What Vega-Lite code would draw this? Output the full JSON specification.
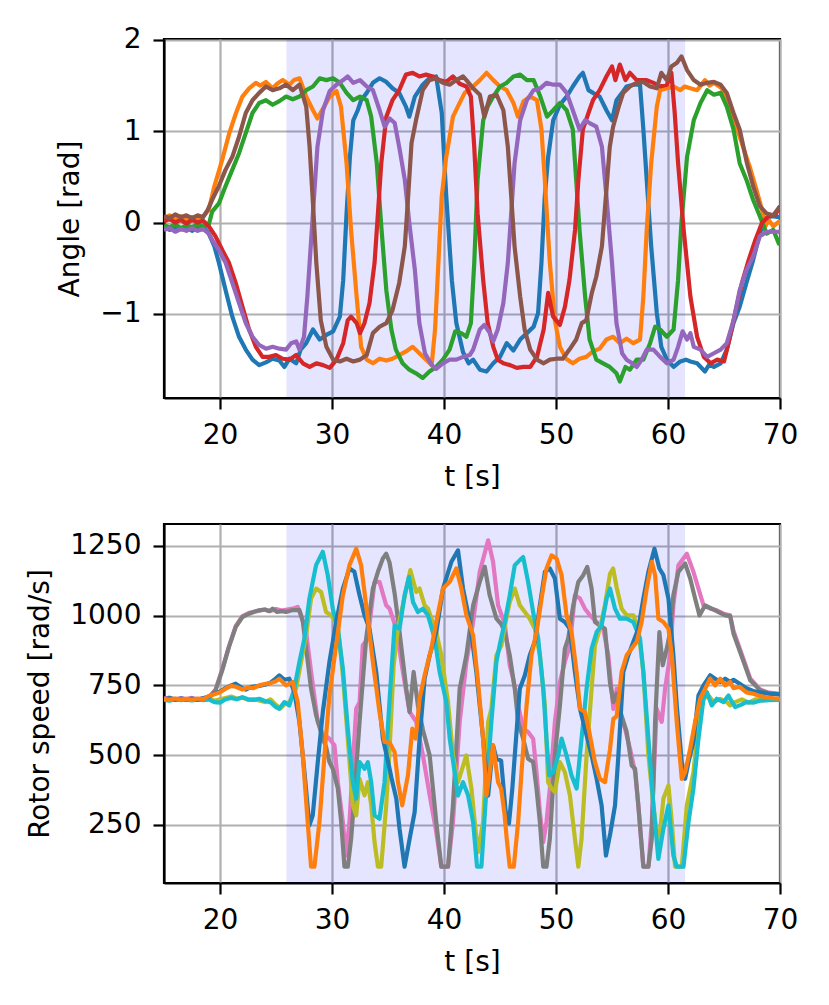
{
"$schema": "https://vega.github.io/schema/vega-lite/v6.json",
"background": "white",
"padding": {"left": 25, "top": 24, "right": 31, "bottom": 20},
"config": {
  "font": "DejaVu Sans",
  "view": {"stroke": "black", "strokeWidth": 2.2},
  "axis": {"labelFont": "DejaVu Sans", "labelFontSize": 28, "labelColor": "black", "titleFont": "DejaVu Sans", "titleFontSize": 28, "titleFontWeight": "normal", "titleColor": "black", "tickSize": 11, "tickWidth": 2.2, "tickColor": "black", "domainColor": "black", "domainWidth": 2.2, "gridColor": "#b0b0b0", "gridWidth": 2.2, "labelPadding": 12, "labelFlush": false, "labelOverlap": false},
  "axisX": {"titlePadding": 14},
  "axisY": {"titlePadding": 15}
},
"resolve": {"scale": {"color": "independent"}},
"datasets": {
"span": [{"start": 25.93, "end": 61.53}],
"angle": [
{"s":"a1","t":15,"v":-0.05},{"s":"a1","t":15.5,"v":-0.08},{"s":"a1","t":16,"v":-0.04},{"s":"a1","t":16.5,"v":-0.07},{"s":"a1","t":17,"v":-0.05},{"s":"a1","t":17.5,"v":-0.09},{"s":"a1","t":18,"v":-0.06},{"s":"a1","t":18.5,"v":-0.04},{"s":"a1","t":19,"v":-0.12},{"s":"a1","t":19.5,"v":-0.26},{"s":"a1","t":19.9,"v":-0.44},{"s":"a1","t":20.5,"v":-0.74},{"s":"a1","t":21.1,"v":-1.03},{"s":"a1","t":21.7,"v":-1.25},{"s":"a1","t":22.3,"v":-1.39},{"s":"a1","t":22.9,"v":-1.5},{"s":"a1","t":23.5,"v":-1.56},{"s":"a1","t":24.1,"v":-1.53},{"s":"a1","t":24.7,"v":-1.49},{"s":"a1","t":25.3,"v":-1.51},{"s":"a1","t":25.75,"v":-1.58},{"s":"a1","t":26.2,"v":-1.49},{"s":"a1","t":26.8,"v":-1.54},{"s":"a1","t":27.2,"v":-1.39},{"s":"a1","t":27.7,"v":-1.32},{"s":"a1","t":28.3,"v":-1.17},{"s":"a1","t":28.9,"v":-1.28},{"s":"a1","t":29.5,"v":-1.23},{"s":"a1","t":30.1,"v":-1.19},{"s":"a1","t":30.7,"v":-1.03},{"s":"a1","t":31,"v":-0.63},{"s":"a1","t":31.3,"v":0.1},{"s":"a1","t":31.6,"v":0.72},{"s":"a1","t":31.9,"v":1.12},{"s":"a1","t":32.3,"v":1.23},{"s":"a1","t":32.6,"v":1.34},{"s":"a1","t":33.1,"v":1.42},{"s":"a1","t":33.65,"v":1.53},{"s":"a1","t":34.25,"v":1.58},{"s":"a1","t":34.85,"v":1.54},{"s":"a1","t":35.4,"v":1.47},{"s":"a1","t":36,"v":1.42},{"s":"a1","t":36.6,"v":1.27},{"s":"a1","t":36.9,"v":1.16},{"s":"a1","t":37.4,"v":1.38},{"s":"a1","t":38.1,"v":1.51},{"s":"a1","t":38.7,"v":1.58},{"s":"a1","t":39.3,"v":1.6},{"s":"a1","t":39.8,"v":1.2},{"s":"a1","t":40.2,"v":0.29},{"s":"a1","t":40.7,"v":-0.63},{"s":"a1","t":41.1,"v":-1.1},{"s":"a1","t":41.7,"v":-1.42},{"s":"a1","t":42.2,"v":-1.54},{"s":"a1","t":42.6,"v":-1.5},{"s":"a1","t":43.2,"v":-1.61},{"s":"a1","t":43.8,"v":-1.63},{"s":"a1","t":44.4,"v":-1.54},{"s":"a1","t":45,"v":-1.47},{"s":"a1","t":45.6,"v":-1.32},{"s":"a1","t":46.2,"v":-1.4},{"s":"a1","t":46.8,"v":-1.28},{"s":"a1","t":47.4,"v":-1.21},{"s":"a1","t":48,"v":-1.14},{"s":"a1","t":48.4,"v":-0.99},{"s":"a1","t":48.7,"v":-0.44},{"s":"a1","t":49,"v":0.29},{"s":"a1","t":49.3,"v":0.72},{"s":"a1","t":49.75,"v":1.12},{"s":"a1","t":50.35,"v":1.29},{"s":"a1","t":50.95,"v":1.38},{"s":"a1","t":51.5,"v":1.49},{"s":"a1","t":52.1,"v":1.6},{"s":"a1","t":52.4,"v":1.64},{"s":"a1","t":52.9,"v":1.45},{"s":"a1","t":53.3,"v":1.42},{"s":"a1","t":53.9,"v":1.38},{"s":"a1","t":54.5,"v":1.23},{"s":"a1","t":55,"v":1.12},{"s":"a1","t":55.4,"v":1.34},{"s":"a1","t":55.9,"v":1.42},{"s":"a1","t":56.3,"v":1.49},{"s":"a1","t":56.9,"v":1.51},{"s":"a1","t":57.5,"v":1.51},{"s":"a1","t":57.8,"v":1.02},{"s":"a1","t":58.1,"v":0.47},{"s":"a1","t":58.5,"v":-0.26},{"s":"a1","t":59,"v":-0.99},{"s":"a1","t":59.4,"v":-1.36},{"s":"a1","t":59.9,"v":-1.5},{"s":"a1","t":60.5,"v":-1.58},{"s":"a1","t":61.1,"v":-1.52},{"s":"a1","t":61.6,"v":-1.5},{"s":"a1","t":62,"v":-1.52},{"s":"a1","t":62.6,"v":-1.54},{"s":"a1","t":63.3,"v":-1.63},{"s":"a1","t":63.7,"v":-1.55},{"s":"a1","t":64.1,"v":-1.58},{"s":"a1","t":64.7,"v":-1.54},{"s":"a1","t":65.25,"v":-1.39},{"s":"a1","t":65.85,"v":-1.1},{"s":"a1","t":66.4,"v":-0.92},{"s":"a1","t":67,"v":-0.66},{"s":"a1","t":67.6,"v":-0.41},{"s":"a1","t":68.2,"v":-0.12},{"s":"a1","t":68.7,"v":0.05},{"s":"a1","t":69.3,"v":0.07},{"s":"a1","t":69.9,"v":0.06},{"s":"a1","t":70,"v":0.05},
{"s":"a2","t":15,"v":0.05},{"s":"a2","t":15.5,"v":0.08},{"s":"a2","t":16,"v":0.03},{"s":"a2","t":16.5,"v":0.07},{"s":"a2","t":17,"v":0.02},{"s":"a2","t":17.5,"v":0.06},{"s":"a2","t":18,"v":0.03},{"s":"a2","t":18.5,"v":0.07},{"s":"a2","t":19,"v":0.14},{"s":"a2","t":19.5,"v":0.4},{"s":"a2","t":19.94,"v":0.58},{"s":"a2","t":20.2,"v":0.69},{"s":"a2","t":20.83,"v":0.98},{"s":"a2","t":21.43,"v":1.2},{"s":"a2","t":22,"v":1.38},{"s":"a2","t":22.6,"v":1.47},{"s":"a2","t":23.2,"v":1.53},{"s":"a2","t":23.6,"v":1.5},{"s":"a2","t":24.1,"v":1.54},{"s":"a2","t":24.7,"v":1.47},{"s":"a2","t":25.1,"v":1.52},{"s":"a2","t":25.6,"v":1.56},{"s":"a2","t":26.2,"v":1.51},{"s":"a2","t":26.6,"v":1.56},{"s":"a2","t":27.1,"v":1.58},{"s":"a2","t":27.7,"v":1.38},{"s":"a2","t":28.3,"v":1.23},{"s":"a2","t":28.7,"v":1.14},{"s":"a2","t":29.2,"v":1.25},{"s":"a2","t":29.8,"v":1.38},{"s":"a2","t":30.4,"v":1.44},{"s":"a2","t":30.8,"v":1.27},{"s":"a2","t":31.3,"v":0.65},{"s":"a2","t":31.7,"v":-0.08},{"s":"a2","t":32.2,"v":-0.81},{"s":"a2","t":32.6,"v":-1.36},{"s":"a2","t":33.1,"v":-1.5},{"s":"a2","t":33.65,"v":-1.54},{"s":"a2","t":34.25,"v":-1.49},{"s":"a2","t":34.85,"v":-1.51},{"s":"a2","t":35.4,"v":-1.49},{"s":"a2","t":36,"v":-1.45},{"s":"a2","t":36.6,"v":-1.41},{"s":"a2","t":37.2,"v":-1.36},{"s":"a2","t":37.8,"v":-1.43},{"s":"a2","t":38.4,"v":-1.5},{"s":"a2","t":38.9,"v":-1.56},{"s":"a2","t":39.2,"v":-1.17},{"s":"a2","t":39.5,"v":-0.44},{"s":"a2","t":39.8,"v":0.29},{"s":"a2","t":40.2,"v":0.72},{"s":"a2","t":40.8,"v":1.16},{"s":"a2","t":41.4,"v":1.31},{"s":"a2","t":41.85,"v":1.42},{"s":"a2","t":42.6,"v":1.49},{"s":"a2","t":43.2,"v":1.56},{"s":"a2","t":43.8,"v":1.64},{"s":"a2","t":44.4,"v":1.56},{"s":"a2","t":45,"v":1.49},{"s":"a2","t":45.6,"v":1.45},{"s":"a2","t":46.2,"v":1.31},{"s":"a2","t":46.6,"v":1.16},{"s":"a2","t":47.1,"v":1.33},{"s":"a2","t":47.7,"v":1.38},{"s":"a2","t":48.3,"v":1.34},{"s":"a2","t":48.7,"v":1.02},{"s":"a2","t":49,"v":0.47},{"s":"a2","t":49.45,"v":-0.44},{"s":"a2","t":49.9,"v":-1.07},{"s":"a2","t":50.35,"v":-1.36},{"s":"a2","t":50.9,"v":-1.49},{"s":"a2","t":51.5,"v":-1.54},{"s":"a2","t":52.1,"v":-1.49},{"s":"a2","t":52.7,"v":-1.47},{"s":"a2","t":53.3,"v":-1.41},{"s":"a2","t":53.9,"v":-1.38},{"s":"a2","t":54.5,"v":-1.28},{"s":"a2","t":55.1,"v":-1.25},{"s":"a2","t":55.7,"v":-1.32},{"s":"a2","t":56.3,"v":-1.27},{"s":"a2","t":56.9,"v":-1.32},{"s":"a2","t":57.5,"v":-1.28},{"s":"a2","t":57.8,"v":-0.81},{"s":"a2","t":58.1,"v":-0.08},{"s":"a2","t":58.5,"v":0.65},{"s":"a2","t":59,"v":1.27},{"s":"a2","t":59.3,"v":1.45},{"s":"a2","t":59.9,"v":1.47},{"s":"a2","t":60.5,"v":1.49},{"s":"a2","t":61.1,"v":1.45},{"s":"a2","t":61.5,"v":1.49},{"s":"a2","t":62,"v":1.47},{"s":"a2","t":62.6,"v":1.45},{"s":"a2","t":63.3,"v":1.56},{"s":"a2","t":63.7,"v":1.5},{"s":"a2","t":64.1,"v":1.53},{"s":"a2","t":64.8,"v":1.47},{"s":"a2","t":65.55,"v":1.27},{"s":"a2","t":66.1,"v":1.05},{"s":"a2","t":66.7,"v":0.83},{"s":"a2","t":67.3,"v":0.61},{"s":"a2","t":67.9,"v":0.36},{"s":"a2","t":68.4,"v":0.14},{"s":"a2","t":68.7,"v":-0.04},{"s":"a2","t":69,"v":0.03},{"s":"a2","t":69.4,"v":-0.04},{"s":"a2","t":69.9,"v":0.01},{"s":"a2","t":70,"v":0},
{"s":"a3","t":15,"v":-0.03},{"s":"a3","t":15.5,"v":-0.05},{"s":"a3","t":16,"v":-0.02},{"s":"a3","t":16.5,"v":-0.06},{"s":"a3","t":17,"v":-0.03},{"s":"a3","t":17.5,"v":-0.05},{"s":"a3","t":18,"v":-0.02},{"s":"a3","t":18.5,"v":-0.05},{"s":"a3","t":19,"v":-0.02},{"s":"a3","t":19.3,"v":0.12},{"s":"a3","t":19.9,"v":0.21},{"s":"a3","t":20.5,"v":0.4},{"s":"a3","t":21.1,"v":0.58},{"s":"a3","t":21.7,"v":0.76},{"s":"a3","t":22.3,"v":0.98},{"s":"a3","t":22.9,"v":1.2},{"s":"a3","t":23.5,"v":1.31},{"s":"a3","t":24.1,"v":1.34},{"s":"a3","t":24.7,"v":1.29},{"s":"a3","t":25.3,"v":1.33},{"s":"a3","t":25.9,"v":1.38},{"s":"a3","t":26.5,"v":1.35},{"s":"a3","t":27.1,"v":1.38},{"s":"a3","t":27.7,"v":1.45},{"s":"a3","t":28.3,"v":1.49},{"s":"a3","t":28.9,"v":1.58},{"s":"a3","t":29.5,"v":1.56},{"s":"a3","t":30.1,"v":1.58},{"s":"a3","t":30.7,"v":1.53},{"s":"a3","t":31.3,"v":1.42},{"s":"a3","t":31.9,"v":1.34},{"s":"a3","t":32.5,"v":1.38},{"s":"a3","t":33.1,"v":1.34},{"s":"a3","t":33.5,"v":1.16},{"s":"a3","t":34,"v":0.65},{"s":"a3","t":34.4,"v":-0.04},{"s":"a3","t":34.85,"v":-0.74},{"s":"a3","t":35.3,"v":-1.17},{"s":"a3","t":35.7,"v":-1.39},{"s":"a3","t":36.3,"v":-1.54},{"s":"a3","t":36.9,"v":-1.61},{"s":"a3","t":37.5,"v":-1.65},{"s":"a3","t":38.1,"v":-1.7},{"s":"a3","t":38.7,"v":-1.63},{"s":"a3","t":39.3,"v":-1.58},{"s":"a3","t":39.9,"v":-1.5},{"s":"a3","t":40.5,"v":-1.39},{"s":"a3","t":41,"v":-1.19},{"s":"a3","t":41.55,"v":-1.21},{"s":"a3","t":42,"v":-1.25},{"s":"a3","t":42.4,"v":-1.1},{"s":"a3","t":42.7,"v":-0.44},{"s":"a3","t":43,"v":0.47},{"s":"a3","t":43.5,"v":1.12},{"s":"a3","t":43.9,"v":1.27},{"s":"a3","t":44.4,"v":1.38},{"s":"a3","t":45,"v":1.49},{"s":"a3","t":45.6,"v":1.53},{"s":"a3","t":46.2,"v":1.6},{"s":"a3","t":46.8,"v":1.62},{"s":"a3","t":47.4,"v":1.56},{"s":"a3","t":48,"v":1.56},{"s":"a3","t":48.6,"v":1.38},{"s":"a3","t":49.2,"v":1.16},{"s":"a3","t":49.75,"v":1.23},{"s":"a3","t":50.35,"v":1.31},{"s":"a3","t":50.95,"v":1.23},{"s":"a3","t":51.5,"v":1.02},{"s":"a3","t":51.8,"v":0.47},{"s":"a3","t":52.1,"v":-0.08},{"s":"a3","t":52.6,"v":-0.81},{"s":"a3","t":53,"v":-1.28},{"s":"a3","t":53.6,"v":-1.5},{"s":"a3","t":54.2,"v":-1.54},{"s":"a3","t":54.8,"v":-1.58},{"s":"a3","t":55.4,"v":-1.65},{"s":"a3","t":55.7,"v":-1.74},{"s":"a3","t":56.2,"v":-1.58},{"s":"a3","t":56.6,"v":-1.61},{"s":"a3","t":57.2,"v":-1.5},{"s":"a3","t":57.8,"v":-1.5},{"s":"a3","t":58.4,"v":-1.32},{"s":"a3","t":58.85,"v":-1.14},{"s":"a3","t":59.3,"v":-1.17},{"s":"a3","t":59.9,"v":-1.25},{"s":"a3","t":60.5,"v":-1.17},{"s":"a3","t":60.9,"v":-0.63},{"s":"a3","t":61.2,"v":0},{"s":"a3","t":61.7,"v":0.72},{"s":"a3","t":62.3,"v":1.12},{"s":"a3","t":62.9,"v":1.31},{"s":"a3","t":63.5,"v":1.45},{"s":"a3","t":64.1,"v":1.4},{"s":"a3","t":64.7,"v":1.42},{"s":"a3","t":65.25,"v":1.27},{"s":"a3","t":65.85,"v":1.02},{"s":"a3","t":66.4,"v":0.65},{"s":"a3","t":67,"v":0.47},{"s":"a3","t":67.6,"v":0.25},{"s":"a3","t":68.2,"v":0.07},{"s":"a3","t":68.8,"v":-0.12},{"s":"a3","t":69.4,"v":-0.08},{"s":"a3","t":69.9,"v":-0.23},{"s":"a3","t":70,"v":-0.2},
{"s":"a4","t":15,"v":0.01},{"s":"a4","t":15.5,"v":0.04},{"s":"a4","t":16,"v":0},{"s":"a4","t":16.5,"v":0.03},{"s":"a4","t":17,"v":-0.01},{"s":"a4","t":17.5,"v":0.03},{"s":"a4","t":18,"v":0},{"s":"a4","t":18.5,"v":0.02},{"s":"a4","t":19,"v":-0.04},{"s":"a4","t":19.6,"v":-0.15},{"s":"a4","t":20.2,"v":-0.3},{"s":"a4","t":20.8,"v":-0.44},{"s":"a4","t":21.4,"v":-0.66},{"s":"a4","t":22,"v":-0.92},{"s":"a4","t":22.6,"v":-1.17},{"s":"a4","t":23.2,"v":-1.36},{"s":"a4","t":23.8,"v":-1.47},{"s":"a4","t":24.4,"v":-1.47},{"s":"a4","t":25,"v":-1.45},{"s":"a4","t":25.6,"v":-1.49},{"s":"a4","t":26.2,"v":-1.5},{"s":"a4","t":26.8,"v":-1.45},{"s":"a4","t":27.4,"v":-1.54},{"s":"a4","t":28,"v":-1.58},{"s":"a4","t":28.6,"v":-1.54},{"s":"a4","t":29.2,"v":-1.56},{"s":"a4","t":29.8,"v":-1.59},{"s":"a4","t":30.4,"v":-1.5},{"s":"a4","t":31,"v":-1.32},{"s":"a4","t":31.4,"v":-1.07},{"s":"a4","t":31.7,"v":-1.03},{"s":"a4","t":32.2,"v":-1.1},{"s":"a4","t":32.5,"v":-1.21},{"s":"a4","t":32.9,"v":-1.1},{"s":"a4","t":33.35,"v":-0.88},{"s":"a4","t":33.8,"v":-0.44},{"s":"a4","t":34.1,"v":0.1},{"s":"a4","t":34.4,"v":0.65},{"s":"a4","t":34.85,"v":1.16},{"s":"a4","t":35.4,"v":1.34},{"s":"a4","t":36,"v":1.45},{"s":"a4","t":36.6,"v":1.62},{"s":"a4","t":37.2,"v":1.64},{"s":"a4","t":37.8,"v":1.6},{"s":"a4","t":38.4,"v":1.62},{"s":"a4","t":39,"v":1.6},{"s":"a4","t":39.6,"v":1.56},{"s":"a4","t":40.2,"v":1.54},{"s":"a4","t":40.8,"v":1.6},{"s":"a4","t":41.4,"v":1.52},{"s":"a4","t":42,"v":1.49},{"s":"a4","t":42.4,"v":1.38},{"s":"a4","t":42.7,"v":0.83},{"s":"a4","t":43,"v":0.1},{"s":"a4","t":43.5,"v":-0.63},{"s":"a4","t":43.9,"v":-1.1},{"s":"a4","t":44.4,"v":-1.36},{"s":"a4","t":44.8,"v":-1.5},{"s":"a4","t":45.3,"v":-1.54},{"s":"a4","t":45.9,"v":-1.56},{"s":"a4","t":46.5,"v":-1.59},{"s":"a4","t":47.1,"v":-1.58},{"s":"a4","t":47.7,"v":-1.58},{"s":"a4","t":48.3,"v":-1.47},{"s":"a4","t":48.9,"v":-1.17},{"s":"a4","t":49.3,"v":-0.77},{"s":"a4","t":49.75,"v":-1.03},{"s":"a4","t":50.35,"v":-1.12},{"s":"a4","t":50.8,"v":-0.92},{"s":"a4","t":51.2,"v":-0.63},{"s":"a4","t":51.7,"v":-0.08},{"s":"a4","t":52,"v":0.47},{"s":"a4","t":52.4,"v":1.02},{"s":"a4","t":52.9,"v":1.2},{"s":"a4","t":53.3,"v":1.34},{"s":"a4","t":53.9,"v":1.45},{"s":"a4","t":54.5,"v":1.6},{"s":"a4","t":55,"v":1.71},{"s":"a4","t":55.3,"v":1.56},{"s":"a4","t":55.7,"v":1.73},{"s":"a4","t":56.2,"v":1.56},{"s":"a4","t":56.6,"v":1.64},{"s":"a4","t":57.2,"v":1.56},{"s":"a4","t":58.1,"v":1.56},{"s":"a4","t":58.7,"v":1.53},{"s":"a4","t":59.3,"v":1.49},{"s":"a4","t":59.9,"v":1.51},{"s":"a4","t":60.3,"v":1.64},{"s":"a4","t":60.6,"v":1.2},{"s":"a4","t":60.9,"v":0.65},{"s":"a4","t":61.4,"v":-0.08},{"s":"a4","t":62,"v":-0.81},{"s":"a4","t":62.6,"v":-1.25},{"s":"a4","t":63.2,"v":-1.47},{"s":"a4","t":63.8,"v":-1.54},{"s":"a4","t":64.4,"v":-1.5},{"s":"a4","t":65,"v":-1.52},{"s":"a4","t":65.4,"v":-1.32},{"s":"a4","t":66,"v":-0.99},{"s":"a4","t":66.6,"v":-0.66},{"s":"a4","t":67.2,"v":-0.41},{"s":"a4","t":67.8,"v":-0.19},{"s":"a4","t":68.4,"v":0},{"s":"a4","t":69,"v":0.07},{"s":"a4","t":69.6,"v":0.09},{"s":"a4","t":70,"v":0.18},
{"s":"a5","t":15,"v":-0.08},{"s":"a5","t":15.5,"v":-0.06},{"s":"a5","t":16,"v":-0.1},{"s":"a5","t":16.5,"v":-0.07},{"s":"a5","t":17,"v":-0.09},{"s":"a5","t":17.5,"v":-0.06},{"s":"a5","t":18,"v":-0.09},{"s":"a5","t":18.5,"v":-0.07},{"s":"a5","t":19,"v":-0.12},{"s":"a5","t":19.3,"v":-0.19},{"s":"a5","t":19.9,"v":-0.3},{"s":"a5","t":20.5,"v":-0.44},{"s":"a5","t":21.1,"v":-0.66},{"s":"a5","t":21.7,"v":-0.88},{"s":"a5","t":22.3,"v":-1.1},{"s":"a5","t":22.9,"v":-1.25},{"s":"a5","t":23.5,"v":-1.34},{"s":"a5","t":24.1,"v":-1.38},{"s":"a5","t":24.7,"v":-1.36},{"s":"a5","t":25.3,"v":-1.38},{"s":"a5","t":25.9,"v":-1.39},{"s":"a5","t":26.35,"v":-1.32},{"s":"a5","t":26.8,"v":-1.3},{"s":"a5","t":27.1,"v":-1.39},{"s":"a5","t":27.5,"v":-1.25},{"s":"a5","t":27.8,"v":-0.81},{"s":"a5","t":28.1,"v":-0.26},{"s":"a5","t":28.4,"v":0.29},{"s":"a5","t":28.7,"v":0.83},{"s":"a5","t":29.2,"v":1.23},{"s":"a5","t":29.8,"v":1.44},{"s":"a5","t":30.4,"v":1.51},{"s":"a5","t":31,"v":1.56},{"s":"a5","t":31.4,"v":1.6},{"s":"a5","t":31.9,"v":1.53},{"s":"a5","t":32.5,"v":1.56},{"s":"a5","t":33.1,"v":1.49},{"s":"a5","t":33.65,"v":1.45},{"s":"a5","t":34.25,"v":1.23},{"s":"a5","t":34.7,"v":1.05},{"s":"a5","t":35.15,"v":1.14},{"s":"a5","t":35.6,"v":1.09},{"s":"a5","t":36,"v":0.83},{"s":"a5","t":36.5,"v":0.47},{"s":"a5","t":36.9,"v":0},{"s":"a5","t":37.4,"v":-0.52},{"s":"a5","t":37.8,"v":-1.1},{"s":"a5","t":38.3,"v":-1.43},{"s":"a5","t":38.9,"v":-1.56},{"s":"a5","t":39.3,"v":-1.6},{"s":"a5","t":39.9,"v":-1.54},{"s":"a5","t":40.5,"v":-1.5},{"s":"a5","t":41.1,"v":-1.5},{"s":"a5","t":41.7,"v":-1.47},{"s":"a5","t":42.3,"v":-1.45},{"s":"a5","t":42.6,"v":-1.39},{"s":"a5","t":43.2,"v":-1.17},{"s":"a5","t":43.6,"v":-1.12},{"s":"a5","t":44.1,"v":-1.21},{"s":"a5","t":44.4,"v":-1.3},{"s":"a5","t":44.8,"v":-1.17},{"s":"a5","t":45.3,"v":-0.88},{"s":"a5","t":45.7,"v":-0.44},{"s":"a5","t":46,"v":0.1},{"s":"a5","t":46.3,"v":0.65},{"s":"a5","t":46.8,"v":1.12},{"s":"a5","t":47.4,"v":1.34},{"s":"a5","t":48,"v":1.45},{"s":"a5","t":48.6,"v":1.47},{"s":"a5","t":49.15,"v":1.53},{"s":"a5","t":49.75,"v":1.51},{"s":"a5","t":50.35,"v":1.51},{"s":"a5","t":50.95,"v":1.42},{"s":"a5","t":51.5,"v":1.23},{"s":"a5","t":52.1,"v":1.02},{"s":"a5","t":52.6,"v":1.12},{"s":"a5","t":53,"v":1.09},{"s":"a5","t":53.6,"v":1.05},{"s":"a5","t":54.1,"v":0.83},{"s":"a5","t":54.5,"v":0.29},{"s":"a5","t":55,"v":-0.44},{"s":"a5","t":55.4,"v":-1.1},{"s":"a5","t":55.9,"v":-1.43},{"s":"a5","t":56.3,"v":-1.5},{"s":"a5","t":56.8,"v":-1.54},{"s":"a5","t":57.2,"v":-1.58},{"s":"a5","t":57.65,"v":-1.5},{"s":"a5","t":58.1,"v":-1.39},{"s":"a5","t":58.7,"v":-1.39},{"s":"a5","t":59.3,"v":-1.47},{"s":"a5","t":59.9,"v":-1.54},{"s":"a5","t":60.5,"v":-1.5},{"s":"a5","t":60.9,"v":-1.36},{"s":"a5","t":61.3,"v":-1.19},{"s":"a5","t":61.7,"v":-1.28},{"s":"a5","t":62,"v":-1.21},{"s":"a5","t":62.3,"v":-1.36},{"s":"a5","t":62.9,"v":-1.39},{"s":"a5","t":63.5,"v":-1.47},{"s":"a5","t":64.1,"v":-1.43},{"s":"a5","t":64.7,"v":-1.39},{"s":"a5","t":65.25,"v":-1.32},{"s":"a5","t":65.85,"v":-1.07},{"s":"a5","t":66.4,"v":-0.74},{"s":"a5","t":67,"v":-0.52},{"s":"a5","t":67.6,"v":-0.37},{"s":"a5","t":68.2,"v":-0.15},{"s":"a5","t":68.8,"v":-0.1},{"s":"a5","t":69.4,"v":-0.1},{"s":"a5","t":69.9,"v":-0.1},{"s":"a5","t":70,"v":-0.11},
{"s":"a6","t":15,"v":0.07},{"s":"a6","t":15.5,"v":0.05},{"s":"a6","t":16,"v":0.09},{"s":"a6","t":16.5,"v":0.06},{"s":"a6","t":17,"v":0.08},{"s":"a6","t":17.5,"v":0.05},{"s":"a6","t":18,"v":0.08},{"s":"a6","t":18.5,"v":0.06},{"s":"a6","t":18.9,"v":0.14},{"s":"a6","t":19.3,"v":0.25},{"s":"a6","t":19.9,"v":0.4},{"s":"a6","t":20.5,"v":0.58},{"s":"a6","t":21.1,"v":0.72},{"s":"a6","t":21.7,"v":0.94},{"s":"a6","t":22.3,"v":1.2},{"s":"a6","t":22.9,"v":1.34},{"s":"a6","t":23.5,"v":1.42},{"s":"a6","t":24.1,"v":1.49},{"s":"a6","t":24.7,"v":1.45},{"s":"a6","t":25.3,"v":1.47},{"s":"a6","t":25.9,"v":1.51},{"s":"a6","t":26.5,"v":1.45},{"s":"a6","t":27.1,"v":1.51},{"s":"a6","t":27.7,"v":1.27},{"s":"a6","t":28,"v":0.83},{"s":"a6","t":28.3,"v":0.21},{"s":"a6","t":28.6,"v":-0.44},{"s":"a6","t":29,"v":-1.07},{"s":"a6","t":29.5,"v":-1.36},{"s":"a6","t":30.1,"v":-1.5},{"s":"a6","t":30.7,"v":-1.52},{"s":"a6","t":31.3,"v":-1.49},{"s":"a6","t":31.9,"v":-1.52},{"s":"a6","t":32.5,"v":-1.5},{"s":"a6","t":33.1,"v":-1.45},{"s":"a6","t":33.65,"v":-1.21},{"s":"a6","t":34.25,"v":-1.14},{"s":"a6","t":34.85,"v":-1.1},{"s":"a6","t":35.4,"v":-0.96},{"s":"a6","t":36,"v":-0.66},{"s":"a6","t":36.5,"v":-0.26},{"s":"a6","t":36.8,"v":0.29},{"s":"a6","t":37.1,"v":0.87},{"s":"a6","t":37.5,"v":1.12},{"s":"a6","t":38.1,"v":1.45},{"s":"a6","t":38.7,"v":1.56},{"s":"a6","t":39.3,"v":1.58},{"s":"a6","t":39.9,"v":1.53},{"s":"a6","t":40.5,"v":1.51},{"s":"a6","t":41.1,"v":1.56},{"s":"a6","t":41.7,"v":1.6},{"s":"a6","t":42,"v":1.56},{"s":"a6","t":42.6,"v":1.47},{"s":"a6","t":43.2,"v":1.4},{"s":"a6","t":43.6,"v":1.16},{"s":"a6","t":44.1,"v":1.38},{"s":"a6","t":44.7,"v":1.4},{"s":"a6","t":45.3,"v":1.23},{"s":"a6","t":45.7,"v":0.83},{"s":"a6","t":46,"v":0.29},{"s":"a6","t":46.3,"v":-0.26},{"s":"a6","t":46.8,"v":-0.81},{"s":"a6","t":47.2,"v":-1.17},{"s":"a6","t":47.7,"v":-1.39},{"s":"a6","t":48.3,"v":-1.5},{"s":"a6","t":48.9,"v":-1.54},{"s":"a6","t":49.45,"v":-1.5},{"s":"a6","t":50.05,"v":-1.49},{"s":"a6","t":50.6,"v":-1.49},{"s":"a6","t":51.2,"v":-1.39},{"s":"a6","t":51.8,"v":-1.28},{"s":"a6","t":52.3,"v":-1.1},{"s":"a6","t":52.7,"v":-1.07},{"s":"a6","t":53.2,"v":-0.77},{"s":"a6","t":53.6,"v":-0.59},{"s":"a6","t":54.1,"v":-0.26},{"s":"a6","t":54.5,"v":0.36},{"s":"a6","t":54.8,"v":0.83},{"s":"a6","t":55.1,"v":1.05},{"s":"a6","t":55.6,"v":1.27},{"s":"a6","t":56,"v":1.42},{"s":"a6","t":56.6,"v":1.49},{"s":"a6","t":57.2,"v":1.53},{"s":"a6","t":57.8,"v":1.54},{"s":"a6","t":58.4,"v":1.49},{"s":"a6","t":59,"v":1.47},{"s":"a6","t":59.4,"v":1.64},{"s":"a6","t":59.9,"v":1.56},{"s":"a6","t":60.3,"v":1.71},{"s":"a6","t":60.8,"v":1.75},{"s":"a6","t":61.2,"v":1.82},{"s":"a6","t":61.7,"v":1.67},{"s":"a6","t":62.3,"v":1.56},{"s":"a6","t":62.9,"v":1.51},{"s":"a6","t":63.5,"v":1.53},{"s":"a6","t":64.1,"v":1.54},{"s":"a6","t":64.7,"v":1.51},{"s":"a6","t":65.25,"v":1.42},{"s":"a6","t":65.85,"v":1.2},{"s":"a6","t":66.4,"v":1.02},{"s":"a6","t":67.05,"v":0.65},{"s":"a6","t":67.6,"v":0.4},{"s":"a6","t":68.2,"v":0.18},{"s":"a6","t":68.8,"v":0.1},{"s":"a6","t":69.4,"v":0.08},{"s":"a6","t":70,"v":0.18}
],
"rotor": [
{"s":"r7","t":15,"v":702},{"s":"r7","t":15.5,"v":706},{"s":"r7","t":16,"v":700},{"s":"r7","t":16.5,"v":704},{"s":"r7","t":17,"v":701},{"s":"r7","t":17.5,"v":705},{"s":"r7","t":18,"v":700},{"s":"r7","t":18.5,"v":704},{"s":"r7","t":19,"v":706},{"s":"r7","t":19.6,"v":735},{"s":"r7","t":20.2,"v":808},{"s":"r7","t":20.8,"v":890},{"s":"r7","t":21.4,"v":962},{"s":"r7","t":22,"v":998},{"s":"r7","t":22.6,"v":1010},{"s":"r7","t":23.1,"v":1014},{"s":"r7","t":23.5,"v":1018},{"s":"r7","t":24,"v":1022},{"s":"r7","t":24.5,"v":1016},{"s":"r7","t":25,"v":1024},{"s":"r7","t":25.5,"v":1018},{"s":"r7","t":26,"v":1022},{"s":"r7","t":26.49,"v":1025},{"s":"r7","t":26.94,"v":1031},{"s":"r7","t":27.24,"v":1000},{"s":"r7","t":27.69,"v":941},{"s":"r7","t":28.13,"v":800},{"s":"r7","t":28.73,"v":619},{"s":"r7","t":29.18,"v":577},{"s":"r7","t":29.77,"v":559},{"s":"r7","t":30.22,"v":535},{"s":"r7","t":30.52,"v":403},{"s":"r7","t":30.97,"v":260},{"s":"r7","t":31.26,"v":140},{"s":"r7","t":31.56,"v":260},{"s":"r7","t":32,"v":559},{"s":"r7","t":32.16,"v":666},{"s":"r7","t":32.46,"v":690},{"s":"r7","t":32.75,"v":894},{"s":"r7","t":33.2,"v":918},{"s":"r7","t":33.8,"v":1121},{"s":"r7","t":34.24,"v":1121},{"s":"r7","t":34.84,"v":1037},{"s":"r7","t":35.14,"v":1025},{"s":"r7","t":35.74,"v":953},{"s":"r7","t":36.33,"v":798},{"s":"r7","t":36.93,"v":655},{"s":"r7","t":37.52,"v":619},{"s":"r7","t":38.12,"v":499},{"s":"r7","t":38.72,"v":356},{"s":"r7","t":39.31,"v":224},{"s":"r7","t":39.76,"v":100},{"s":"r7","t":40.36,"v":100},{"s":"r7","t":40.8,"v":260},{"s":"r7","t":41.4,"v":619},{"s":"r7","t":42,"v":834},{"s":"r7","t":42.6,"v":977},{"s":"r7","t":43.19,"v":1157},{"s":"r7","t":43.94,"v":1270},{"s":"r7","t":44.38,"v":1193},{"s":"r7","t":44.83,"v":1037},{"s":"r7","t":45.43,"v":970},{"s":"r7","t":45.87,"v":822},{"s":"r7","t":46.17,"v":774},{"s":"r7","t":46.62,"v":678},{"s":"r7","t":47.07,"v":595},{"s":"r7","t":47.51,"v":583},{"s":"r7","t":47.96,"v":559},{"s":"r7","t":48.26,"v":439},{"s":"r7","t":48.56,"v":296},{"s":"r7","t":48.86,"v":188},{"s":"r7","t":49.15,"v":260},{"s":"r7","t":49.45,"v":380},{"s":"r7","t":49.9,"v":619},{"s":"r7","t":50.35,"v":762},{"s":"r7","t":50.79,"v":834},{"s":"r7","t":51.24,"v":894},{"s":"r7","t":51.69,"v":1073},{"s":"r7","t":52.14,"v":1061},{"s":"r7","t":52.58,"v":1025},{"s":"r7","t":53.03,"v":1001},{"s":"r7","t":53.63,"v":977},{"s":"r7","t":54.22,"v":953},{"s":"r7","t":54.67,"v":858},{"s":"r7","t":55.12,"v":666},{"s":"r7","t":55.42,"v":738},{"s":"r7","t":55.71,"v":650},{"s":"r7","t":56.16,"v":595},{"s":"r7","t":56.61,"v":523},{"s":"r7","t":57.06,"v":439},{"s":"r7","t":57.35,"v":320},{"s":"r7","t":57.8,"v":100},{"s":"r7","t":58.25,"v":100},{"s":"r7","t":58.55,"v":260},{"s":"r7","t":58.99,"v":666},{"s":"r7","t":59.44,"v":619},{"s":"r7","t":59.74,"v":738},{"s":"r7","t":60.19,"v":858},{"s":"r7","t":60.48,"v":1037},{"s":"r7","t":60.93,"v":1181},{"s":"r7","t":61.68,"v":1222},{"s":"r7","t":62.27,"v":1157},{"s":"r7","t":62.72,"v":1097},{"s":"r7","t":63.17,"v":1037},{"s":"r7","t":63.76,"v":1025},{"s":"r7","t":64.36,"v":1019},{"s":"r7","t":64.96,"v":1007},{"s":"r7","t":65.55,"v":1001},{"s":"r7","t":65.85,"v":945},{"s":"r7","t":66.6,"v":860},{"s":"r7","t":67.34,"v":775},{"s":"r7","t":68.23,"v":735},{"s":"r7","t":69,"v":724},{"s":"r7","t":70,"v":720},
{"s":"r8","t":15,"v":700},{"s":"r8","t":15.5,"v":705},{"s":"r8","t":16,"v":698},{"s":"r8","t":16.5,"v":702},{"s":"r8","t":17,"v":700},{"s":"r8","t":17.5,"v":703},{"s":"r8","t":18,"v":699},{"s":"r8","t":18.5,"v":703},{"s":"r8","t":19,"v":705},{"s":"r8","t":19.6,"v":732},{"s":"r8","t":20.2,"v":804},{"s":"r8","t":20.8,"v":888},{"s":"r8","t":21.4,"v":959},{"s":"r8","t":22,"v":995},{"s":"r8","t":22.6,"v":1007},{"s":"r8","t":23.1,"v":1015},{"s":"r8","t":23.5,"v":1019},{"s":"r8","t":24,"v":1022},{"s":"r8","t":24.4,"v":1016},{"s":"r8","t":24.7,"v":1025},{"s":"r8","t":25.1,"v":1013},{"s":"r8","t":25.5,"v":1016},{"s":"r8","t":25.9,"v":1013},{"s":"r8","t":26.5,"v":1020},{"s":"r8","t":27.09,"v":1020},{"s":"r8","t":27.39,"v":980},{"s":"r8","t":27.69,"v":882},{"s":"r8","t":28.13,"v":738},{"s":"r8","t":28.58,"v":643},{"s":"r8","t":29.18,"v":559},{"s":"r8","t":29.47,"v":530},{"s":"r8","t":29.77,"v":475},{"s":"r8","t":30.07,"v":451},{"s":"r8","t":30.52,"v":380},{"s":"r8","t":30.82,"v":260},{"s":"r8","t":31.11,"v":100},{"s":"r8","t":31.41,"v":100},{"s":"r8","t":31.71,"v":200},{"s":"r8","t":32,"v":355},{"s":"r8","t":32.46,"v":619},{"s":"r8","t":33.05,"v":918},{"s":"r8","t":33.65,"v":1097},{"s":"r8","t":34.1,"v":1157},{"s":"r8","t":34.54,"v":1205},{"s":"r8","t":34.84,"v":1222},{"s":"r8","t":35.14,"v":1190},{"s":"r8","t":35.59,"v":1080},{"s":"r8","t":36.03,"v":941},{"s":"r8","t":36.63,"v":738},{"s":"r8","t":36.93,"v":655},{"s":"r8","t":37.29,"v":798},{"s":"r8","t":37.67,"v":678},{"s":"r8","t":38.12,"v":590},{"s":"r8","t":38.72,"v":499},{"s":"r8","t":39.31,"v":260},{"s":"r8","t":39.76,"v":100},{"s":"r8","t":40.36,"v":100},{"s":"r8","t":40.8,"v":320},{"s":"r8","t":41.4,"v":738},{"s":"r8","t":42,"v":858},{"s":"r8","t":42.6,"v":1037},{"s":"r8","t":43.19,"v":1121},{"s":"r8","t":43.64,"v":1175},{"s":"r8","t":44.08,"v":1073},{"s":"r8","t":44.68,"v":989},{"s":"r8","t":45.1,"v":970},{"s":"r8","t":45.43,"v":941},{"s":"r8","t":45.87,"v":858},{"s":"r8","t":46.32,"v":738},{"s":"r8","t":46.62,"v":619},{"s":"r8","t":47.07,"v":559},{"s":"r8","t":47.51,"v":487},{"s":"r8","t":47.96,"v":475},{"s":"r8","t":48.26,"v":380},{"s":"r8","t":48.56,"v":260},{"s":"r8","t":48.86,"v":100},{"s":"r8","t":49.15,"v":100},{"s":"r8","t":49.45,"v":200},{"s":"r8","t":49.9,"v":499},{"s":"r8","t":50.35,"v":678},{"s":"r8","t":50.79,"v":882},{"s":"r8","t":51.09,"v":918},{"s":"r8","t":51.54,"v":1037},{"s":"r8","t":51.99,"v":1121},{"s":"r8","t":52.43,"v":1145},{"s":"r8","t":52.79,"v":1175},{"s":"r8","t":53.18,"v":1097},{"s":"r8","t":53.48,"v":977},{"s":"r8","t":53.92,"v":965},{"s":"r8","t":54.37,"v":953},{"s":"r8","t":54.82,"v":760},{"s":"r8","t":55.12,"v":690},{"s":"r8","t":55.42,"v":720},{"s":"r8","t":55.71,"v":660},{"s":"r8","t":56.31,"v":583},{"s":"r8","t":56.76,"v":463},{"s":"r8","t":57.06,"v":451},{"s":"r8","t":57.35,"v":320},{"s":"r8","t":57.8,"v":100},{"s":"r8","t":58.25,"v":100},{"s":"r8","t":58.55,"v":200},{"s":"r8","t":58.85,"v":619},{"s":"r8","t":59.23,"v":941},{"s":"r8","t":59.53,"v":822},{"s":"r8","t":59.89,"v":882},{"s":"r8","t":60.19,"v":941},{"s":"r8","t":60.48,"v":1073},{"s":"r8","t":60.93,"v":1157},{"s":"r8","t":61.53,"v":1187},{"s":"r8","t":61.98,"v":1133},{"s":"r8","t":62.42,"v":1061},{"s":"r8","t":62.81,"v":1001},{"s":"r8","t":63.32,"v":1037},{"s":"r8","t":63.91,"v":1025},{"s":"r8","t":64.51,"v":1013},{"s":"r8","t":65.11,"v":1001},{"s":"r8","t":65.55,"v":998},{"s":"r8","t":65.85,"v":935},{"s":"r8","t":66.6,"v":852},{"s":"r8","t":67.34,"v":768},{"s":"r8","t":68.23,"v":732},{"s":"r8","t":69,"v":722},{"s":"r8","t":70,"v":718},
{"s":"r9","t":15,"v":700},{"s":"r9","t":15.5,"v":697},{"s":"r9","t":16,"v":702},{"s":"r9","t":16.5,"v":698},{"s":"r9","t":17,"v":700},{"s":"r9","t":17.5,"v":698},{"s":"r9","t":18,"v":701},{"s":"r9","t":18.5,"v":698},{"s":"r9","t":19,"v":702},{"s":"r9","t":19.5,"v":695},{"s":"r9","t":20,"v":700},{"s":"r9","t":20.5,"v":705},{"s":"r9","t":21,"v":710},{"s":"r9","t":21.5,"v":702},{"s":"r9","t":22,"v":706},{"s":"r9","t":22.5,"v":698},{"s":"r9","t":23,"v":700},{"s":"r9","t":23.5,"v":696},{"s":"r9","t":24,"v":690},{"s":"r9","t":24.5,"v":700},{"s":"r9","t":25,"v":680},{"s":"r9","t":25.4,"v":668},{"s":"r9","t":25.8,"v":684},{"s":"r9","t":26.19,"v":690},{"s":"r9","t":26.79,"v":738},{"s":"r9","t":27.24,"v":834},{"s":"r9","t":27.69,"v":930},{"s":"r9","t":28.13,"v":1061},{"s":"r9","t":28.58,"v":1097},{"s":"r9","t":29.03,"v":1085},{"s":"r9","t":29.47,"v":1013},{"s":"r9","t":29.92,"v":1001},{"s":"r9","t":30.52,"v":965},{"s":"r9","t":30.97,"v":786},{"s":"r9","t":31.41,"v":559},{"s":"r9","t":31.86,"v":320},{"s":"r9","t":32.16,"v":284},{"s":"r9","t":32.46,"v":415},{"s":"r9","t":32.9,"v":356},{"s":"r9","t":33.2,"v":403},{"s":"r9","t":33.5,"v":320},{"s":"r9","t":33.8,"v":188},{"s":"r9","t":34.1,"v":100},{"s":"r9","t":34.39,"v":100},{"s":"r9","t":34.84,"v":320},{"s":"r9","t":35.14,"v":520},{"s":"r9","t":35.5,"v":820},{"s":"r9","t":35.9,"v":960},{"s":"r9","t":36.33,"v":1037},{"s":"r9","t":36.99,"v":1163},{"s":"r9","t":37.52,"v":1085},{"s":"r9","t":37.82,"v":1097},{"s":"r9","t":38.27,"v":1037},{"s":"r9","t":38.57,"v":1025},{"s":"r9","t":39.31,"v":941},{"s":"r9","t":39.76,"v":858},{"s":"r9","t":40.36,"v":690},{"s":"r9","t":40.8,"v":499},{"s":"r9","t":41.25,"v":403},{"s":"r9","t":41.99,"v":499},{"s":"r9","t":42.45,"v":380},{"s":"r9","t":42.89,"v":200},{"s":"r9","t":43.04,"v":152},{"s":"r9","t":43.49,"v":260},{"s":"r9","t":43.94,"v":619},{"s":"r9","t":44.23,"v":666},{"s":"r9","t":44.68,"v":858},{"s":"r9","t":45.13,"v":894},{"s":"r9","t":45.5,"v":977},{"s":"r9","t":45.87,"v":1049},{"s":"r9","t":46.32,"v":1097},{"s":"r9","t":46.77,"v":1037},{"s":"r9","t":47.22,"v":1013},{"s":"r9","t":47.66,"v":989},{"s":"r9","t":48.11,"v":953},{"s":"r9","t":48.56,"v":858},{"s":"r9","t":49.01,"v":678},{"s":"r9","t":49.3,"v":403},{"s":"r9","t":49.6,"v":380},{"s":"r9","t":49.9,"v":368},{"s":"r9","t":50.35,"v":475},{"s":"r9","t":50.79,"v":439},{"s":"r9","t":51.24,"v":356},{"s":"r9","t":51.69,"v":200},{"s":"r9","t":51.99,"v":100},{"s":"r9","t":52.28,"v":200},{"s":"r9","t":52.73,"v":499},{"s":"r9","t":53.18,"v":738},{"s":"r9","t":53.48,"v":894},{"s":"r9","t":53.92,"v":953},{"s":"r9","t":54.37,"v":1037},{"s":"r9","t":54.82,"v":1150},{"s":"r9","t":55.1,"v":1169},{"s":"r9","t":55.42,"v":1100},{"s":"r9","t":55.86,"v":1025},{"s":"r9","t":56.31,"v":1001},{"s":"r9","t":56.91,"v":1001},{"s":"r9","t":57.35,"v":953},{"s":"r9","t":57.8,"v":798},{"s":"r9","t":58.25,"v":499},{"s":"r9","t":58.7,"v":320},{"s":"r9","t":59.14,"v":164},{"s":"r9","t":59.59,"v":344},{"s":"r9","t":60.04,"v":391},{"s":"r9","t":60.34,"v":260},{"s":"r9","t":60.63,"v":100},{"s":"r9","t":61.23,"v":100},{"s":"r9","t":61.68,"v":320},{"s":"r9","t":62.27,"v":439},{"s":"r9","t":62.72,"v":619},{"s":"r9","t":63.17,"v":702},{"s":"r9","t":63.62,"v":714},{"s":"r9","t":64.06,"v":690},{"s":"r9","t":64.66,"v":702},{"s":"r9","t":65.25,"v":690},{"s":"r9","t":65.55,"v":678},{"s":"r9","t":66,"v":690},{"s":"r9","t":66.6,"v":700},{"s":"r9","t":67.2,"v":688},{"s":"r9","t":67.8,"v":700},{"s":"r9","t":68.4,"v":696},{"s":"r9","t":69,"v":700},{"s":"r9","t":70,"v":698},
{"s":"r10","t":15,"v":698},{"s":"r10","t":15.5,"v":695},{"s":"r10","t":16,"v":700},{"s":"r10","t":16.5,"v":697},{"s":"r10","t":17,"v":699},{"s":"r10","t":17.5,"v":696},{"s":"r10","t":18,"v":700},{"s":"r10","t":18.5,"v":697},{"s":"r10","t":19,"v":700},{"s":"r10","t":19.5,"v":690},{"s":"r10","t":20,"v":688},{"s":"r10","t":20.5,"v":700},{"s":"r10","t":21,"v":705},{"s":"r10","t":21.5,"v":700},{"s":"r10","t":22,"v":708},{"s":"r10","t":22.5,"v":700},{"s":"r10","t":23,"v":698},{"s":"r10","t":23.5,"v":702},{"s":"r10","t":24,"v":694},{"s":"r10","t":24.5,"v":690},{"s":"r10","t":25,"v":672},{"s":"r10","t":25.3,"v":666},{"s":"r10","t":25.75,"v":690},{"s":"r10","t":26.19,"v":678},{"s":"r10","t":26.64,"v":738},{"s":"r10","t":27.09,"v":834},{"s":"r10","t":27.54,"v":918},{"s":"r10","t":27.98,"v":1061},{"s":"r10","t":28.58,"v":1181},{"s":"r10","t":29.18,"v":1229},{"s":"r10","t":29.62,"v":1145},{"s":"r10","t":30.07,"v":1025},{"s":"r10","t":30.52,"v":953},{"s":"r10","t":30.97,"v":810},{"s":"r10","t":31.41,"v":595},{"s":"r10","t":31.86,"v":403},{"s":"r10","t":32.16,"v":344},{"s":"r10","t":32.46,"v":475},{"s":"r10","t":32.9,"v":451},{"s":"r10","t":33.2,"v":475},{"s":"r10","t":33.5,"v":403},{"s":"r10","t":33.8,"v":284},{"s":"r10","t":34.24,"v":272},{"s":"r10","t":34.69,"v":403},{"s":"r10","t":35.14,"v":700},{"s":"r10","t":35.59,"v":965},{"s":"r10","t":36.03,"v":953},{"s":"r10","t":36.48,"v":1073},{"s":"r10","t":36.87,"v":1139},{"s":"r10","t":37.23,"v":1049},{"s":"r10","t":37.67,"v":1013},{"s":"r10","t":38.12,"v":1025},{"s":"r10","t":38.57,"v":1001},{"s":"r10","t":39.17,"v":918},{"s":"r10","t":39.61,"v":798},{"s":"r10","t":40.21,"v":690},{"s":"r10","t":40.51,"v":559},{"s":"r10","t":40.95,"v":439},{"s":"r10","t":41.25,"v":355},{"s":"r10","t":41.7,"v":403},{"s":"r10","t":42.15,"v":356},{"s":"r10","t":42.6,"v":260},{"s":"r10","t":42.95,"v":100},{"s":"r10","t":43.34,"v":100},{"s":"r10","t":43.79,"v":380},{"s":"r10","t":44.23,"v":619},{"s":"r10","t":44.68,"v":834},{"s":"r10","t":45,"v":900},{"s":"r10","t":45.43,"v":977},{"s":"r10","t":45.87,"v":1073},{"s":"r10","t":46.32,"v":1181},{"s":"r10","t":46.77,"v":1199},{"s":"r10","t":47.07,"v":1210},{"s":"r10","t":47.51,"v":1121},{"s":"r10","t":47.96,"v":1013},{"s":"r10","t":48.41,"v":918},{"s":"r10","t":48.86,"v":738},{"s":"r10","t":49.15,"v":559},{"s":"r10","t":49.39,"v":427},{"s":"r10","t":49.75,"v":439},{"s":"r10","t":50.2,"v":499},{"s":"r10","t":50.5,"v":559},{"s":"r10","t":50.94,"v":499},{"s":"r10","t":51.39,"v":427},{"s":"r10","t":51.84,"v":380},{"s":"r10","t":52.28,"v":559},{"s":"r10","t":52.73,"v":738},{"s":"r10","t":53.18,"v":882},{"s":"r10","t":53.63,"v":941},{"s":"r10","t":54.07,"v":965},{"s":"r10","t":54.52,"v":1061},{"s":"r10","t":54.82,"v":1097},{"s":"r10","t":55.27,"v":1025},{"s":"r10","t":55.71,"v":989},{"s":"r10","t":56.31,"v":989},{"s":"r10","t":56.91,"v":977},{"s":"r10","t":57.5,"v":918},{"s":"r10","t":57.8,"v":798},{"s":"r10","t":58.25,"v":559},{"s":"r10","t":58.7,"v":320},{"s":"r10","t":59.14,"v":128},{"s":"r10","t":59.59,"v":236},{"s":"r10","t":60.04,"v":320},{"s":"r10","t":60.48,"v":140},{"s":"r10","t":60.78,"v":100},{"s":"r10","t":61.38,"v":100},{"s":"r10","t":61.83,"v":260},{"s":"r10","t":62.27,"v":380},{"s":"r10","t":62.72,"v":559},{"s":"r10","t":63.17,"v":702},{"s":"r10","t":63.47,"v":726},{"s":"r10","t":63.91,"v":678},{"s":"r10","t":64.36,"v":702},{"s":"r10","t":64.96,"v":690},{"s":"r10","t":65.4,"v":714},{"s":"r10","t":65.55,"v":702},{"s":"r10","t":66,"v":672},{"s":"r10","t":66.5,"v":680},{"s":"r10","t":67,"v":690},{"s":"r10","t":67.6,"v":688},{"s":"r10","t":68.2,"v":695},{"s":"r10","t":69,"v":697},{"s":"r10","t":70,"v":698},
{"s":"r11","t":15,"v":700},{"s":"r11","t":15.5,"v":704},{"s":"r11","t":16,"v":699},{"s":"r11","t":16.5,"v":703},{"s":"r11","t":17,"v":700},{"s":"r11","t":17.5,"v":702},{"s":"r11","t":18,"v":699},{"s":"r11","t":18.5,"v":704},{"s":"r11","t":19,"v":710},{"s":"r11","t":19.5,"v":720},{"s":"r11","t":20,"v":728},{"s":"r11","t":20.5,"v":740},{"s":"r11","t":21,"v":750},{"s":"r11","t":21.4,"v":756},{"s":"r11","t":22,"v":740},{"s":"r11","t":22.3,"v":735},{"s":"r11","t":22.8,"v":745},{"s":"r11","t":23.5,"v":748},{"s":"r11","t":24,"v":752},{"s":"r11","t":24.5,"v":760},{"s":"r11","t":25,"v":775},{"s":"r11","t":25.3,"v":786},{"s":"r11","t":25.75,"v":770},{"s":"r11","t":26.19,"v":774},{"s":"r11","t":26.64,"v":726},{"s":"r11","t":27.09,"v":619},{"s":"r11","t":27.54,"v":439},{"s":"r11","t":27.98,"v":248},{"s":"r11","t":28.28,"v":284},{"s":"r11","t":28.73,"v":475},{"s":"r11","t":29.18,"v":654},{"s":"r11","t":29.77,"v":834},{"s":"r11","t":30.37,"v":977},{"s":"r11","t":30.97,"v":1097},{"s":"r11","t":31.56,"v":1169},{"s":"r11","t":32,"v":1157},{"s":"r11","t":32.46,"v":1073},{"s":"r11","t":32.9,"v":1001},{"s":"r11","t":33.35,"v":953},{"s":"r11","t":33.95,"v":798},{"s":"r11","t":34.54,"v":559},{"s":"r11","t":34.99,"v":480},{"s":"r11","t":35.3,"v":420},{"s":"r11","t":35.74,"v":344},{"s":"r11","t":36.03,"v":236},{"s":"r11","t":36.48,"v":100},{"s":"r11","t":36.93,"v":200},{"s":"r11","t":37.38,"v":296},{"s":"r11","t":37.82,"v":559},{"s":"r11","t":38.27,"v":774},{"s":"r11","t":38.72,"v":858},{"s":"r11","t":39.31,"v":941},{"s":"r11","t":39.91,"v":1097},{"s":"r11","t":40.66,"v":1193},{"s":"r11","t":41.25,"v":1234},{"s":"r11","t":41.7,"v":1097},{"s":"r11","t":42.3,"v":977},{"s":"r11","t":42.89,"v":798},{"s":"r11","t":43.49,"v":559},{"s":"r11","t":43.94,"v":355},{"s":"r11","t":44.38,"v":535},{"s":"r11","t":44.68,"v":487},{"s":"r11","t":45.1,"v":480},{"s":"r11","t":45.5,"v":300},{"s":"r11","t":45.8,"v":255},{"s":"r11","t":46.1,"v":380},{"s":"r11","t":46.32,"v":499},{"s":"r11","t":46.77,"v":738},{"s":"r11","t":47.22,"v":786},{"s":"r11","t":47.66,"v":858},{"s":"r11","t":48.11,"v":906},{"s":"r11","t":48.56,"v":1037},{"s":"r11","t":49.01,"v":1157},{"s":"r11","t":49.45,"v":1169},{"s":"r11","t":49.9,"v":1133},{"s":"r11","t":50.35,"v":989},{"s":"r11","t":50.79,"v":977},{"s":"r11","t":51.24,"v":953},{"s":"r11","t":51.69,"v":798},{"s":"r11","t":52.14,"v":666},{"s":"r11","t":52.73,"v":571},{"s":"r11","t":53.18,"v":499},{"s":"r11","t":53.63,"v":415},{"s":"r11","t":54.07,"v":320},{"s":"r11","t":54.46,"v":140},{"s":"r11","t":54.85,"v":220},{"s":"r11","t":55.27,"v":320},{"s":"r11","t":55.57,"v":499},{"s":"r11","t":56.01,"v":798},{"s":"r11","t":56.46,"v":858},{"s":"r11","t":56.91,"v":906},{"s":"r11","t":57.35,"v":953},{"s":"r11","t":57.8,"v":1061},{"s":"r11","t":58.25,"v":1157},{"s":"r11","t":58.79,"v":1240},{"s":"r11","t":59.23,"v":1169},{"s":"r11","t":59.59,"v":1145},{"s":"r11","t":60.04,"v":1061},{"s":"r11","t":60.48,"v":858},{"s":"r11","t":60.78,"v":678},{"s":"r11","t":61.23,"v":475},{"s":"r11","t":61.53,"v":415},{"s":"r11","t":61.83,"v":475},{"s":"r11","t":62.27,"v":547},{"s":"r11","t":62.72,"v":714},{"s":"r11","t":63.17,"v":750},{"s":"r11","t":63.76,"v":786},{"s":"r11","t":64.21,"v":774},{"s":"r11","t":64.66,"v":762},{"s":"r11","t":65.11,"v":774},{"s":"r11","t":65.55,"v":762},{"s":"r11","t":65.85,"v":770},{"s":"r11","t":66.4,"v":756},{"s":"r11","t":67,"v":740},{"s":"r11","t":67.6,"v":730},{"s":"r11","t":68.2,"v":725},{"s":"r11","t":69,"v":720},{"s":"r11","t":70,"v":718},
{"s":"r12","t":15,"v":702},{"s":"r12","t":15.5,"v":698},{"s":"r12","t":16,"v":703},{"s":"r12","t":16.5,"v":699},{"s":"r12","t":17,"v":702},{"s":"r12","t":17.5,"v":698},{"s":"r12","t":18,"v":703},{"s":"r12","t":18.5,"v":700},{"s":"r12","t":19,"v":712},{"s":"r12","t":19.5,"v":718},{"s":"r12","t":20,"v":725},{"s":"r12","t":20.5,"v":738},{"s":"r12","t":21,"v":748},{"s":"r12","t":21.4,"v":745},{"s":"r12","t":22,"v":735},{"s":"r12","t":22.5,"v":742},{"s":"r12","t":23,"v":740},{"s":"r12","t":23.5,"v":750},{"s":"r12","t":24,"v":755},{"s":"r12","t":24.5,"v":758},{"s":"r12","t":25,"v":765},{"s":"r12","t":25.3,"v":774},{"s":"r12","t":25.9,"v":750},{"s":"r12","t":26.49,"v":762},{"s":"r12","t":26.94,"v":690},{"s":"r12","t":27.39,"v":499},{"s":"r12","t":27.83,"v":260},{"s":"r12","t":28.13,"v":100},{"s":"r12","t":28.43,"v":100},{"s":"r12","t":28.88,"v":260},{"s":"r12","t":29.33,"v":499},{"s":"r12","t":29.77,"v":714},{"s":"r12","t":30.37,"v":894},{"s":"r12","t":30.97,"v":1073},{"s":"r12","t":31.56,"v":1181},{"s":"r12","t":32.16,"v":1240},{"s":"r12","t":32.6,"v":1181},{"s":"r12","t":33.05,"v":1037},{"s":"r12","t":33.65,"v":834},{"s":"r12","t":34.24,"v":654},{"s":"r12","t":34.69,"v":547},{"s":"r12","t":35.14,"v":545},{"s":"r12","t":35.59,"v":511},{"s":"r12","t":35.89,"v":403},{"s":"r12","t":36.27,"v":320},{"s":"r12","t":36.78,"v":427},{"s":"r12","t":37.17,"v":595},{"s":"r12","t":37.47,"v":559},{"s":"r12","t":37.82,"v":702},{"s":"r12","t":38.27,"v":786},{"s":"r12","t":38.87,"v":882},{"s":"r12","t":39.31,"v":977},{"s":"r12","t":39.91,"v":1097},{"s":"r12","t":40.51,"v":1121},{"s":"r12","t":41.1,"v":1169},{"s":"r12","t":41.55,"v":1097},{"s":"r12","t":42,"v":1001},{"s":"r12","t":42.6,"v":930},{"s":"r12","t":43.04,"v":762},{"s":"r12","t":43.49,"v":559},{"s":"r12","t":43.79,"v":355},{"s":"r12","t":44.08,"v":439},{"s":"r12","t":44.38,"v":535},{"s":"r12","t":44.83,"v":403},{"s":"r12","t":45.1,"v":380},{"s":"r12","t":45.4,"v":290},{"s":"r12","t":45.6,"v":200},{"s":"r12","t":45.87,"v":100},{"s":"r12","t":46.23,"v":100},{"s":"r12","t":46.62,"v":260},{"s":"r12","t":46.92,"v":439},{"s":"r12","t":47.37,"v":678},{"s":"r12","t":47.81,"v":858},{"s":"r12","t":48.26,"v":941},{"s":"r12","t":48.71,"v":1061},{"s":"r12","t":49.15,"v":1169},{"s":"r12","t":49.6,"v":1216},{"s":"r12","t":50.05,"v":1205},{"s":"r12","t":50.5,"v":1145},{"s":"r12","t":50.94,"v":1001},{"s":"r12","t":51.39,"v":941},{"s":"r12","t":51.84,"v":798},{"s":"r12","t":52.14,"v":666},{"s":"r12","t":52.58,"v":655},{"s":"r12","t":53.03,"v":571},{"s":"r12","t":53.48,"v":475},{"s":"r12","t":53.92,"v":415},{"s":"r12","t":54.37,"v":403},{"s":"r12","t":54.82,"v":520},{"s":"r12","t":55.12,"v":630},{"s":"r12","t":55.42,"v":640},{"s":"r12","t":55.86,"v":798},{"s":"r12","t":56.31,"v":858},{"s":"r12","t":56.76,"v":882},{"s":"r12","t":57.21,"v":906},{"s":"r12","t":57.65,"v":977},{"s":"r12","t":58.1,"v":1097},{"s":"r12","t":58.55,"v":1193},{"s":"r12","t":58.85,"v":1145},{"s":"r12","t":59.14,"v":989},{"s":"r12","t":59.59,"v":977},{"s":"r12","t":60.04,"v":953},{"s":"r12","t":60.34,"v":858},{"s":"r12","t":60.78,"v":619},{"s":"r12","t":61.23,"v":415},{"s":"r12","t":61.53,"v":439},{"s":"r12","t":61.98,"v":523},{"s":"r12","t":62.42,"v":619},{"s":"r12","t":62.87,"v":702},{"s":"r12","t":63.32,"v":738},{"s":"r12","t":63.76,"v":774},{"s":"r12","t":64.21,"v":750},{"s":"r12","t":64.66,"v":774},{"s":"r12","t":65.11,"v":750},{"s":"r12","t":65.55,"v":762},{"s":"r12","t":65.85,"v":740},{"s":"r12","t":66.4,"v":745},{"s":"r12","t":67,"v":725},{"s":"r12","t":67.6,"v":720},{"s":"r12","t":68.2,"v":712},{"s":"r12","t":69,"v":705},{"s":"r12","t":70,"v":702}
]
},
"spacing": 126,
"bounds": "flush",
"vconcat": [
  {
    "width": 616,
    "height": 359,
    "layer": [
      {
        "data": {"name": "span"},
        "mark": {"type": "rect", "color": "#0000ff", "opacity": 0.1},
        "encoding": {
          "x": {"field": "start", "type": "quantitative", "scale": {"domain": [15, 70], "nice": false}, "axis": {"values": [20, 30, 40, 50, 60, 70], "format": "d"}, "title": "t [s]"},
          "x2": {"field": "end"}
        }
      },
      {
        "data": {"name": "angle"},
        "mark": {"type": "line", "strokeWidth": 4.2, "strokeJoin": "round", "clip": true},
        "encoding": {
          "x": {"field": "t", "type": "quantitative", "scale": {"domain": [15, 70], "nice": false}, "axis": {"values": [20, 30, 40, 50, 60, 70], "format": "d"}, "title": "t [s]"},
          "y": {"field": "v", "type": "quantitative", "scale": {"domain": [-1.92, 2.01], "nice": false, "zero": false}, "axis": {"values": [-1, 0, 1, 2], "format": "d"}, "title": "Angle [rad]"},
          "color": {"field": "s", "type": "nominal", "scale": {"domain": ["a1", "a2", "a3", "a4", "a5", "a6"], "range": ["#1f77b4", "#ff7f0e", "#2ca02c", "#d62728", "#9467bd", "#8c564b"]}, "legend": null}
        }
      }
    ]
  },
  {
    "width": 616,
    "height": 359,
    "layer": [
      {
        "data": {"name": "span"},
        "mark": {"type": "rect", "color": "#0000ff", "opacity": 0.1},
        "encoding": {
          "x": {"field": "start", "type": "quantitative", "scale": {"domain": [15, 70], "nice": false}, "axis": {"values": [20, 30, 40, 50, 60, 70], "format": "d"}, "title": "t [s]"},
          "x2": {"field": "end"}
        }
      },
      {
        "data": {"name": "rotor"},
        "mark": {"type": "line", "strokeWidth": 4.2, "strokeJoin": "round", "clip": true},
        "encoding": {
          "x": {"field": "t", "type": "quantitative", "scale": {"domain": [15, 70], "nice": false}, "axis": {"values": [20, 30, 40, 50, 60, 70], "format": "d"}, "title": "t [s]"},
          "y": {"field": "v", "type": "quantitative", "scale": {"domain": [41.5, 1328.5], "nice": false, "zero": false}, "axis": {"values": [250, 500, 750, 1000, 1250], "format": "d"}, "title": "Rotor speed [rad/s]"},
          "color": {"field": "s", "type": "nominal", "scale": {"domain": ["r7", "r8", "r9", "r10", "r11", "r12"], "range": ["#e377c2", "#7f7f7f", "#bcbd22", "#17becf", "#1f77b4", "#ff7f0e"]}, "legend": null}
        }
      }
    ]
  }
]
}
